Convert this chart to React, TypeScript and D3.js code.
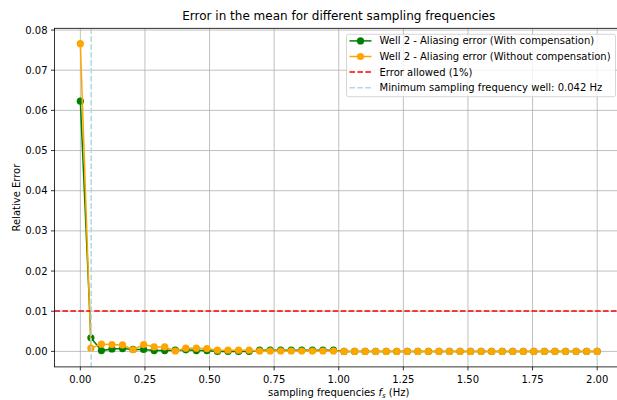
import React from "react";
import * as d3 from "d3";

const freqs = [
  0, 0.0408, 0.0816, 0.1224, 0.1633, 0.2041, 0.2449, 0.2857, 0.3265, 0.3673,
  0.4082, 0.449, 0.4898, 0.5306, 0.5714, 0.6122, 0.6531, 0.6939, 0.7347, 0.7755,
  0.8163, 0.8571, 0.898, 0.9388, 0.9796, 1.0204, 1.0612, 1.102, 1.1429, 1.1837,
  1.2245, 1.2653, 1.3061, 1.3469, 1.3878, 1.4286, 1.4694, 1.5102, 1.551, 1.5918,
  1.6327, 1.6735, 1.7143, 1.7551, 1.7959, 1.8367, 1.8776, 1.9184, 1.9592, 2.0,
];

const withComp = [
  0.0623, 0.0034, 0.0002, 0.0006, 0.0007, 0.0005, 0.0005, 0.0002, 0.0002, 0.0003,
  0.0004, 0.0002, 0.0002, -0.00003, -0.00003, -0.00003, -0.00002, 0.0003, 0.0003, 0.0003,
  0.0003, 0.0003, 0.0003, 0.0003, 0.0003, 0, 0, 0, 0, 0,
  0, 0, 0, 0, 0, 0, 0, 0, 0, 0,
  0, 0, 0, 0, 0, 0, 0, 0, 0, 0,
];

const withoutComp = [
  0.0766, 0.0008, 0.0018, 0.0017, 0.0016, 0.0004, 0.0017, 0.0011, 0.0011, 0.0001,
  0.0008, 0.0008, 0.0007, 0.0003, 0.0003, 0.0003, 0.0003, 0.0001, 0.0001, 0.0001,
  0.0001, 0.0001, 0.0001, 0.0001, 0.0001, 0, 0, 0, 0, 0,
  0, 0, 0, 0, 0, 0, 0, 0, 0, 0,
  0, 0, 0, 0, 0, 0, 0, 0, 0, 0,
];

const errorAllowed = 0.01;
const minFreq = 0.042;

const xTicks = [0, 0.25, 0.5, 0.75, 1.0, 1.25, 1.5, 1.75, 2.0];
const yTicks = [0, 0.01, 0.02, 0.03, 0.04, 0.05, 0.06, 0.07, 0.08];

const legendLabels = [
  "Well 2 - Aliasing error (With compensation)",
  "Well 2 - Aliasing error (Without compensation)",
  "Error allowed (1%)",
  "Minimum sampling frequency well: 0.042 Hz",
];

const W = 617;
const H = 400;
const left = 54.5;
const right = 623;
const top = 28.3;
const bottom = 366.9;
const FONT = "DejaVu Sans, sans-serif";

function pad(ext: [number, number]): [number, number] {
  const r = ext[1] - ext[0];
  return [ext[0] - r * 0.05, ext[1] + r * 0.05];
}

export default function App() {
  const xExt = d3.extent(freqs) as [number, number];
  const allY = withComp.concat(withoutComp);
  const yExt = d3.extent(allY) as [number, number];
  const x = d3.scaleLinear().domain(pad(xExt)).range([left, right]);
  const y = d3.scaleLinear().domain(pad(yExt)).range([bottom, top]);

  const line = d3
    .line<number>()
    .x((_, i) => x(freqs[i]))
    .y((d) => y(d));

  const series = [
    { data: withComp, color: "green" },
    { data: withoutComp, color: "orange" },
  ];

  const legX = 346.5;
  const legY = 34.3;
  const legW = 269;
  const legH = 62.4;
  const rowY = [40.9, 56.5, 72.1, 87.7];
  const redY = Math.round(y(errorAllowed));

  return (
    <div style={{ position: "fixed", left: 0, top: 0 }}>
      <svg width={W} height={H} style={{ display: "block", background: "white" }}>
        <defs>
          <clipPath id="plotclip">
            <rect x={left} y={top} width={right - left} height={bottom - top} />
          </clipPath>
        </defs>
        <g stroke="#b0b0b0" strokeWidth={0.8}>
          {xTicks.map((t) => (
            <line key={"gx" + t} x1={x(t)} x2={x(t)} y1={top} y2={bottom} />
          ))}
          {yTicks.map((t) => (
            <line key={"gy" + t} x1={left} x2={right} y1={y(t)} y2={y(t)} />
          ))}
        </g>
        <g clipPath="url(#plotclip)">
          {series.map((s) => (
            <g key={s.color}>
              <path d={line(s.data) || ""} fill="none" stroke={s.color} strokeWidth={1.5} />
              {s.data.map((v, i) => (
                <circle key={i} cx={x(freqs[i])} cy={y(v)} r={3.6} fill={s.color} />
              ))}
            </g>
          ))}
          <line
            x1={left}
            x2={right}
            y1={redY}
            y2={redY}
            stroke="red"
            strokeWidth={1.6}
            strokeDasharray="5.55,2.4"
          />
          <line
            x1={x(minFreq)}
            x2={x(minFreq)}
            y1={top}
            y2={bottom}
            stroke="lightblue"
            strokeWidth={1.5}
            strokeDasharray="5.55,2.4"
          />
        </g>
        <rect
          x={left}
          y={top}
          width={right - left}
          height={bottom - top}
          fill="none"
          stroke="black"
          strokeWidth={0.8}
        />
        <g fontFamily={FONT} fontSize={10} fill="black">
          {xTicks.map((t) => (
            <g key={"xt" + t}>
              <line x1={x(t)} x2={x(t)} y1={bottom} y2={bottom + 3.5} stroke="black" strokeWidth={0.8} />
              <text x={x(t)} y={383.3} textAnchor="middle">
                {t.toFixed(2)}
              </text>
            </g>
          ))}
          {yTicks.map((t) => (
            <g key={"yt" + t}>
              <line x1={left - 3.5} x2={left} y1={y(t)} y2={y(t)} stroke="black" strokeWidth={0.8} />
              <text x={left - 7} y={y(t)} textAnchor="end" dominantBaseline="central">
                {t.toFixed(2)}
              </text>
            </g>
          ))}
          <text x={(left + right) / 2} y={396} textAnchor="middle">
            sampling frequencies <tspan fontStyle="italic">f</tspan>
            <tspan fontStyle="italic" fontSize={7} dy={2}>s</tspan>
            <tspan dy={-2}> (Hz)</tspan>
          </text>
          <text
            transform={`translate(19.5, ${(top + bottom) / 2}) rotate(-90)`}
            textAnchor="middle"
          >
            Relative Error
          </text>
        </g>
        <text
          x={(left + right) / 2}
          y={19.7}
          textAnchor="middle"
          fontFamily={FONT}
          fontSize={12}
        >
          Error in the mean for different sampling frequencies
        </text>
        <g fontFamily={FONT} fontSize={10}>
          <rect
            x={legX}
            y={legY}
            width={legW}
            height={legH}
            rx={2}
            fill="white"
            fillOpacity={0.8}
            stroke="#cccccc"
            strokeWidth={0.8}
          />
          {legendLabels.map((lab, i) => {
            const cy = rowY[i];
            const x1 = 349.5;
            const x2 = 371.5;
            const color = ["green", "orange", "red", "lightblue"][i];
            return (
              <g key={lab}>
                <line
                  x1={x1}
                  x2={x2}
                  y1={cy}
                  y2={cy}
                  stroke={color}
                  strokeWidth={1.5}
                  strokeDasharray={i >= 2 ? "5.55,2.4" : undefined}
                />
                {i < 2 && <circle cx={(x1 + x2) / 2} cy={cy} r={3.6} fill={color} />}
                <text x={379.5} y={cy} dominantBaseline="central">
                  {lab}
                </text>
              </g>
            );
          })}
        </g>
      </svg>
    </div>
  );
}
